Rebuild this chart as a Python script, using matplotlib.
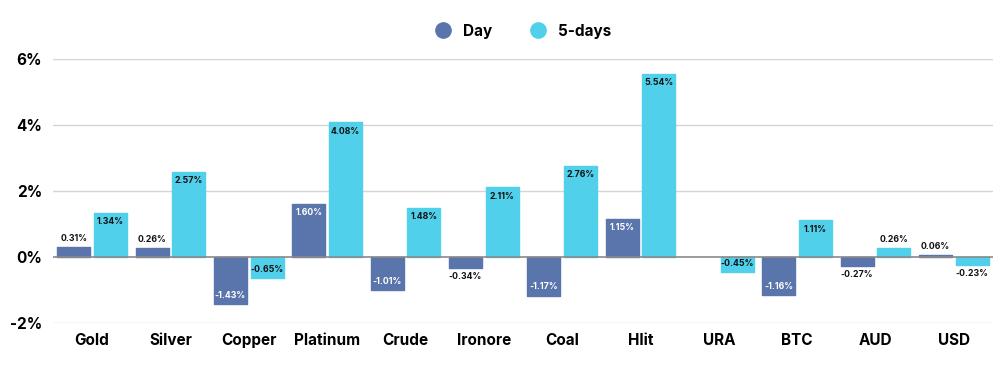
#!/usr/bin/env python3
import numpy as np
import matplotlib.pyplot as plt

assets = ['Gold', 'Silver', 'Copper', 'Platinum', 'Crude', 'Ironore',
          'Coal', 'Hlit', 'URA', 'BTC', 'AUD', 'USD']
day = [0.31, 0.26, -1.43, 1.60, -1.01, -0.34, -1.17, 1.15, 0.0, -1.16, -0.27, 0.06]
five_days = [1.34, 2.57, -0.65, 4.08, 1.48, 2.11, 2.76, 5.54, -0.45, 1.11, 0.26, -0.23]
yticks = [-2, 0, 2, 4, 6]

c_day = '#5a75ab'
c_5d = '#50d0ea'
plt.rcParams['font.family'] = ['Inter', 'DejaVu Sans']

fig = plt.figure(figsize=(10.03, 3.66), dpi=100)
ax = fig.add_axes([53 / 1003, 43 / 366, 940 / 1003, 264 / 366])

x = np.arange(len(assets))
w = 0.42
off = 0.235


def draw(xpos, vals, color, inside_color):
    for xi, v in zip(xpos, vals):
        if v == 0:
            continue
        ax.bar(xi, v, w, color=color, edgecolor=color, linewidth=1.0,
               joinstyle='round', zorder=3)
        txt = f'{v:.2f}%'
        if abs(v) >= 0.45:
            col = inside_color
            dy, va = (-3, 'top') if v > 0 else (3, 'bottom')
        else:
            col = '#111111'
            dy, va = (3, 'bottom') if v > 0 else (-3, 'top')
        ax.annotate(txt, (xi, v), xytext=(0, dy), textcoords='offset points',
                    ha='center', va=va, fontsize=6.3, fontweight='bold',
                    color=col, zorder=4)


draw(x - off, day, c_day, 'white')
draw(x + off, five_days, c_5d, '#111111')

ax.set_xlim(-0.5, len(assets) - 0.5)
ax.set_ylim(-2, 6)
ax.set_yticks(yticks)
ax.set_yticklabels([f'{t}%' for t in yticks], fontsize=11, fontweight='bold')
ax.set_xticks(x)
ax.set_xticklabels(assets, fontsize=11, fontweight='bold')
ax.tick_params(axis='both', length=0)
ax.tick_params(axis='x', pad=7)
ax.tick_params(axis='y', pad=8)
for s in ax.spines.values():
    s.set_visible(False)
for t in yticks:
    if t != 0:
        ax.axhline(t, color='#d5d5d5', linewidth=1, zorder=1)
ax.axhline(0, color='#8a8a8a', linewidth=1.2, zorder=5)

handles = [plt.Line2D([], [], marker='o', linestyle='none', markersize=11, color=c_day),
           plt.Line2D([], [], marker='o', linestyle='none', markersize=11, color=c_5d)]
fig.legend(handles, ['Day', '5-days'], loc='center', bbox_to_anchor=(0.518, 0.915),
           ncol=2, frameon=False, prop={'size': 11, 'weight': 'bold'},
           handletextpad=0.3, columnspacing=2.0)

fig.savefig('out.png', dpi=100)
